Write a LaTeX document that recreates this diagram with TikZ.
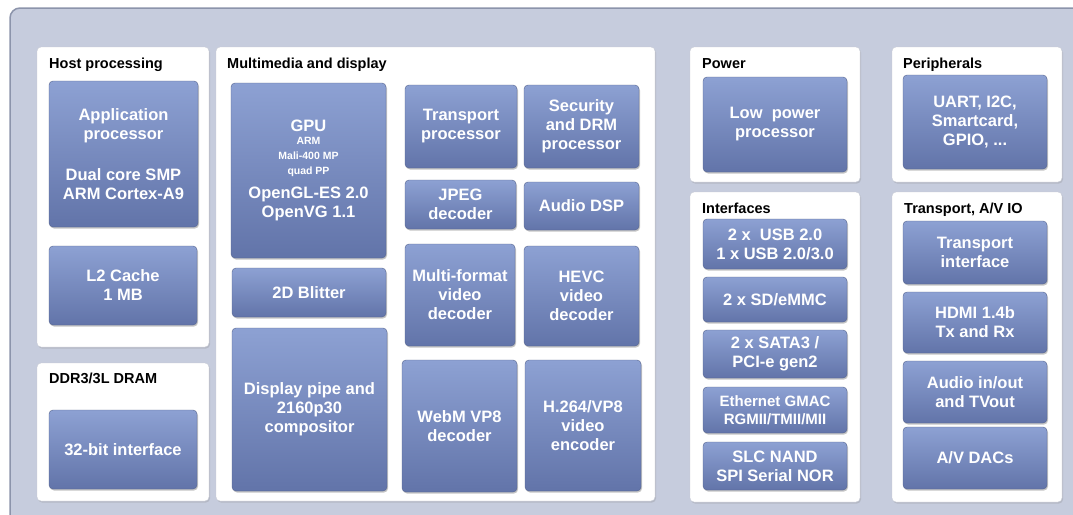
\documentclass[tikz,border=0pt]{standalone}
\usepackage{fontspec}
\setmainfont{Liberation Sans}
\usetikzlibrary{shadows}
\definecolor{framebg}{HTML}{C6CCDD}
\definecolor{frameln}{HTML}{8C94AB}
\definecolor{panelln}{HTML}{C8CBD5}
\definecolor{blktop}{HTML}{8DA1D3}
\definecolor{blkbot}{HTML}{6274A9}
\definecolor{blkln}{HTML}{56658F}
\begin{document}
\begin{tikzpicture}[x=1pt,y=-1pt,
    panel/.style={draw=panelln,fill=white,rounded corners=4pt,inner sep=0pt,drop shadow={opacity=0.25,shadow xshift=1pt,shadow yshift=-1.5pt}},
    ttl/.style={anchor=base west,inner sep=0pt,font=\fontsize{14.5}{17}\selectfont\bfseries},
    blk/.style={draw=blkln,top color=blktop,bottom color=blkbot,rounded corners=4pt,text=white,align=center,inner sep=0pt,font=\fontsize{16.5}{19}\selectfont\bfseries,drop shadow={opacity=0.45,shadow xshift=1pt,shadow yshift=-1.5pt}}]
    \useasboundingbox (0,0) rectangle (1073,514);
    \clip (0,0) rectangle (1073,514);
    \draw[fill=framebg,draw=frameln,line width=1.5pt,rounded corners=10pt] (10,8) rectangle (1095,535);

    \node[panel,minimum width=172pt,minimum height=300pt] (host) at (123,197) {};
    \node[panel,minimum width=172pt,minimum height=138pt] (dram) at (123,432) {};
    \node[panel,minimum width=439pt,minimum height=454pt] (mm) at (435.5,274) {};
    \node[panel,minimum width=170pt,minimum height=135pt] (power) at (775,114.5) {};
    \node[panel,minimum width=170pt,minimum height=135pt] (periph) at (977,114.5) {};
    \node[panel,minimum width=170pt,minimum height=310pt] (intf) at (775,347) {};
    \node[panel,minimum width=170pt,minimum height=310pt] (tav) at (977,347) {};

    \node[ttl] (hostttl) at (49,68) {Host processing};
    \node[ttl] (dramttl) at (49,383) {DDR3/3L DRAM};
    \node[ttl] (mmttl) at (227,68) {Multimedia and display};
    \node[ttl] (powerttl) at (702,68) {Power};
    \node[ttl] (periphttl) at (903,68) {Peripherals};
    \node[ttl] (intfttl) at (702,213) {Interfaces};
    \node[ttl] (tavttl) at (904,213) {Transport, A/V IO};

    \node[blk,minimum width=149pt,minimum height=146pt] (app) at (123.5,154) {Application\\processor\\[22pt]Dual core SMP\\ARM Cortex-A9};
    \node[blk,minimum width=148pt,minimum height=79pt] (l2) at (123,285.5) {L2 Cache\\1 MB};
    \node[blk,minimum width=148pt,minimum height=79pt] (ddrif) at (123,449.5) {32-bit interface};

    \node[blk,minimum width=155pt,minimum height=175pt] (gpu) at (308.5,170.5) {GPU\\[-6pt]{\fontsize{10.5}{12}\selectfont ARM}\\[-4pt]{\fontsize{10.5}{12}\selectfont Mali-400 MP}\\[-4pt]{\fontsize{10.5}{12}\selectfont quad PP}\\[5pt]OpenGL-ES 2.0\\OpenVG 1.1};
    \node[blk,minimum width=154pt,minimum height=49pt] (blit) at (309,292.5) {2D Blitter};
    \node[blk,minimum width=155pt,minimum height=163pt] (disp) at (309.5,409.5) {Display pipe and\\2160p30\\compositor};
    \node[blk,minimum width=112pt,minimum height=83pt] (tproc) at (461,126.5) {Transport\\processor};
    \node[blk,minimum width=115pt,minimum height=83pt] (drm) at (581.5,126.5) {Security\\and DRM\\processor};
    \node[blk,minimum width=111pt,minimum height=49pt] (jpeg) at (460.5,204.5) {JPEG\\decoder};
    \node[blk,minimum width=115pt,minimum height=48pt] (dsp) at (581.5,206) {Audio DSP};
    \node[blk,minimum width=110pt,minimum height=102pt] (mfv) at (460,295) {Multi-format\\video\\decoder};
    \node[blk,minimum width=115pt,minimum height=100pt] (hevc) at (581.5,296) {HEVC\\video\\decoder};
    \node[blk,minimum width=115pt,minimum height=132pt] (webm) at (459.5,426) {WebM VP8\\decoder};
    \node[blk,minimum width=116pt,minimum height=131pt] (enc) at (583,425.5) {H.264/VP8\\video\\encoder};

    \node[blk,minimum width=144pt,minimum height=95pt] (lpp) at (775,124.5) {Low~ power\\processor};
    \node[blk,minimum width=144pt,minimum height=94pt] (uart) at (975,122) {UART, I2C,\\Smartcard,\\GPIO, ...};

    \node[blk,minimum width=144pt,minimum height=50pt] (usb) at (775,244) {2 x~ USB 2.0\\1 x USB 2.0/3.0};
    \node[blk,minimum width=144pt,minimum height=45pt] (sd) at (775,299.5) {2 x SD/eMMC};
    \node[blk,minimum width=144pt,minimum height=48pt] (sata) at (775,354) {2 x SATA3 /\\PCI-e gen2};
    \node[blk,minimum width=144pt,minimum height=46pt,font=\fontsize{15}{18}\selectfont\bfseries] (eth) at (775,410) {Ethernet GMAC\\RGMII/TMII/MII};
    \node[blk,minimum width=144pt,minimum height=48pt] (nand) at (775,466) {SLC NAND\\SPI Serial NOR};

    \node[blk,minimum width=144pt,minimum height=63pt] (tif) at (975,252.5) {Transport\\interface};
    \node[blk,minimum width=144pt,minimum height=61pt] (hdmi) at (975,322.5) {HDMI 1.4b\\Tx and Rx};
    \node[blk,minimum width=144pt,minimum height=62pt] (aio) at (975,392) {Audio in/out\\and TVout};
    \node[blk,minimum width=144pt,minimum height=62pt] (dac) at (975,458) {A/V DACs};
\end{tikzpicture}
\end{document}
